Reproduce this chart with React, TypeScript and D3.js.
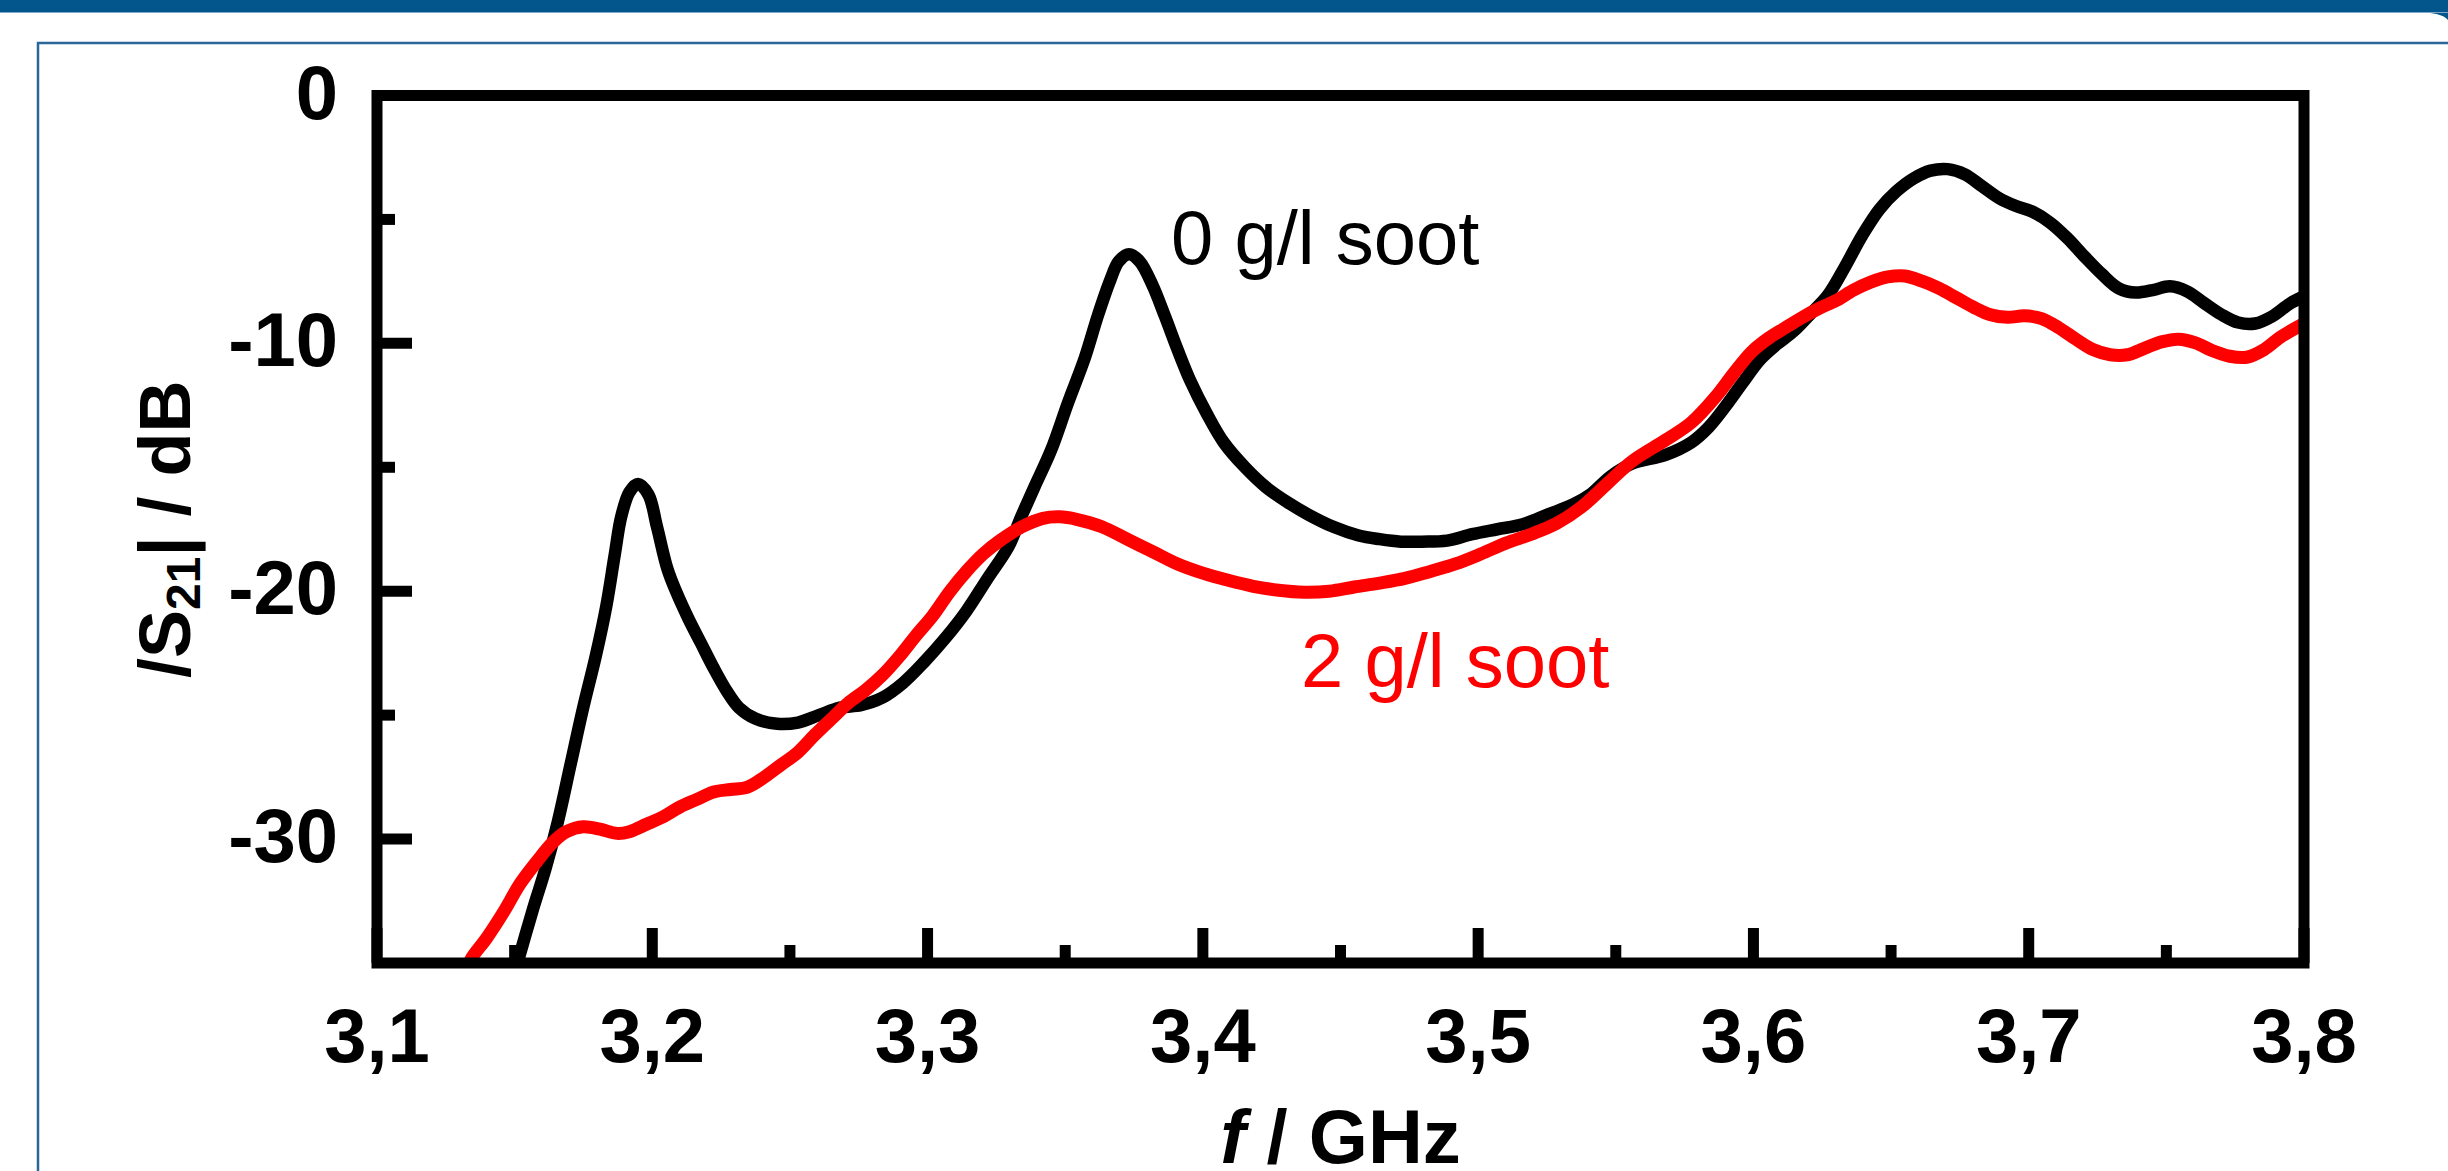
import React from "react";
import * as d3 from "d3";

// ---- data ----
const xTickValues = [3.1, 3.2, 3.3, 3.4, 3.5, 3.6, 3.7, 3.8];
const xTickLabels = ["3,1", "3,2", "3,3", "3,4", "3,5", "3,6", "3,7", "3,8"];
const xMinorTicks = [3.15, 3.25, 3.35, 3.45, 3.55, 3.65, 3.75];
const yTickValues = [0, -10, -20, -30];
const yTickLabels = ["0", "-10", "-20", "-30"];
const yMinorTicks = [-5, -15, -25];

const soot0: [number, number][] = [
  [3.1505, -35.2], [3.1566, -32.85], [3.1612, -31.2], [3.1657, -29.3], [3.1703, -27.0],
  [3.1749, -24.7], [3.1795, -22.6], [3.1833, -20.6], [3.1864, -18.5], [3.1887, -17.0],
  [3.1917, -16.0], [3.1948, -15.67], [3.1986, -16.1], [3.2017, -17.4], [3.2055, -19.1],
  [3.2086, -20.0], [3.2131, -21.1], [3.2177, -22.1], [3.2223, -23.1], [3.2269, -24.0],
  [3.2315, -24.7], [3.2376, -25.15], [3.2453, -25.35], [3.2529, -25.3], [3.2605, -25.0],
  [3.2682, -24.7], [3.2758, -24.6], [3.2835, -24.3], [3.2911, -23.7], [3.2988, -22.85],
  [3.3064, -21.9], [3.3141, -20.8], [3.3217, -19.5], [3.3294, -18.2], [3.3340, -17.0],
  [3.3388, -15.8], [3.3449, -14.3], [3.351, -12.4], [3.3572, -10.56], [3.3618, -8.9],
  [3.3664, -7.44], [3.3694, -6.7], [3.3732, -6.4], [3.3771, -6.7], [3.3817, -7.65],
  [3.3862, -8.9], [3.3908, -10.25], [3.3954, -11.5], [3.4015, -12.85], [3.4076, -14.0],
  [3.4153, -15.0], [3.4229, -15.8], [3.4306, -16.4], [3.4382, -16.9], [3.4474, -17.4],
  [3.4566, -17.75], [3.4642, -17.9], [3.4719, -18.0], [3.4795, -18.0], [3.4887, -17.96],
  [3.4978, -17.7], [3.507, -17.5], [3.5162, -17.3], [3.5254, -16.9], [3.5345, -16.5],
  [3.5407, -16.1], [3.5483, -15.35], [3.556, -14.85], [3.5681, -14.5], [3.5774, -14.0],
  [3.5836, -13.4], [3.5898, -12.55], [3.596, -11.6], [3.6023, -10.67], [3.6085, -10.04],
  [3.6147, -9.5], [3.6209, -8.79], [3.6271, -8.05], [3.6333, -6.9], [3.6395, -5.65],
  [3.6457, -4.6], [3.6519, -3.87], [3.6581, -3.35], [3.6644, -3.03], [3.6706, -2.97],
  [3.6768, -3.18], [3.683, -3.66], [3.6892, -4.14], [3.6954, -4.46], [3.7016, -4.7],
  [3.7078, -5.13], [3.714, -5.75], [3.7202, -6.49], [3.7265, -7.2], [3.7327, -7.78],
  [3.7389, -7.95], [3.7451, -7.85], [3.7513, -7.7], [3.7575, -7.9], [3.7637, -8.37],
  [3.7699, -8.83], [3.7761, -9.16], [3.7823, -9.2], [3.7886, -8.9], [3.7948, -8.4],
  [3.8, -8.1],
];

const soot2: [number, number][] = [
  [3.1325, -35.3], [3.1344, -34.8], [3.1398, -34.0], [3.1459, -32.96], [3.152, -31.8],
  [3.1581, -30.9], [3.1642, -30.1], [3.1688, -29.7], [3.1749, -29.5], [3.181, -29.6],
  [3.1872, -29.77], [3.1917, -29.7], [3.1979, -29.4], [3.204, -29.1], [3.2101, -28.7],
  [3.2162, -28.4], [3.2223, -28.1], [3.2284, -28.0], [3.2346, -27.9], [3.2407, -27.5],
  [3.2468, -27.0], [3.2529, -26.5], [3.259, -25.8], [3.2651, -25.15], [3.2713, -24.5],
  [3.2774, -24.0], [3.2835, -23.4], [3.2896, -22.65], [3.2957, -21.8], [3.3018, -21.0],
  [3.3079, -20.04], [3.3141, -19.2], [3.3202, -18.5], [3.3263, -17.96], [3.3343, -17.4],
  [3.3419, -17.06], [3.348, -17.0], [3.3541, -17.1], [3.3633, -17.4], [3.3725, -17.9],
  [3.3817, -18.4], [3.3908, -18.9], [3.4, -19.27], [3.4092, -19.56], [3.4183, -19.8],
  [3.4275, -19.96], [3.4367, -20.04], [3.4459, -20.0], [3.455, -19.83], [3.4642, -19.67],
  [3.4734, -19.48], [3.4826, -19.2], [3.4917, -18.9], [3.5009, -18.5], [3.5101, -18.06],
  [3.5193, -17.7], [3.5284, -17.27], [3.5376, -16.6], [3.5468, -15.67], [3.556, -14.75],
  [3.5681, -13.9], [3.5774, -13.2], [3.5867, -12.1], [3.5929, -11.2], [3.5992, -10.36],
  [3.6054, -9.8], [3.6116, -9.37], [3.6178, -8.95], [3.624, -8.58], [3.6302, -8.26],
  [3.6364, -7.85], [3.6426, -7.53], [3.6488, -7.32], [3.655, -7.28], [3.6613, -7.49],
  [3.6675, -7.78], [3.6737, -8.16], [3.6799, -8.54], [3.6861, -8.85], [3.6923, -8.95],
  [3.6985, -8.89], [3.7047, -9.0], [3.7109, -9.37], [3.7171, -9.83], [3.7233, -10.25],
  [3.7296, -10.46], [3.7358, -10.46], [3.742, -10.2], [3.7482, -9.94], [3.7544, -9.83],
  [3.7606, -9.98], [3.7668, -10.3], [3.773, -10.52], [3.7792, -10.56], [3.7855, -10.25],
  [3.7917, -9.73], [3.8, -9.2],
];

const W = 2448;
const H = 1171;
const FONT = "'Liberation Sans', Arial, Helvetica, sans-serif";

export default function App() {
  const x = d3.scaleLinear().domain([3.1, 3.8]).range([377, 2304]);
  const y = d3.scaleLinear().domain([-35, 0]).range([963, 95.5]);
  const line = d3
    .line<[number, number]>()
    .x((d) => x(d[0]))
    .y((d) => y(d[1]))
    .curve(d3.curveCatmullRom.alpha(0.5));

  const x0 = x(3.1), x1 = x(3.8), yb = y(-35), yt = y(0);
  const MAJ = 35, MIN = 18, AX = 11;

  return (
    <svg
      width={W}
      height={H}
      viewBox={`0 0 ${W} ${H}`}
      style={{ position: "absolute", left: 0, top: 0, display: "block", background: "#fff" }}
    >
      <rect x={0} y={0} width={W} height={H} fill="#ffffff" />
      {/* slide decoration */}
      <path d={`M0,0 H${W} V20 Q${W - 6},12 ${W - 34},12 H0 Z`} fill="#02568b" />
      <line x1={0} x2={W} y1={12.5} y2={12.5} stroke="#7fa6c6" strokeWidth={1} />
      <path d={`M38,${H + 5} V43 H${W + 5}`} fill="none" stroke="#2a6698" strokeWidth={2.5} />

      <defs>
        <clipPath id="plotClip">
          <rect x={x0} y={yt} width={x1 - x0} height={yb - yt} />
        </clipPath>
      </defs>

      {/* curves */}
      <g clipPath="url(#plotClip)" fill="none" strokeLinejoin="round" strokeLinecap="round">
        <path d={line(soot0) || ""} stroke="#000000" strokeWidth={12.5} />
        <path d={line(soot2) || ""} stroke="#ff0000" strokeWidth={13} />
      </g>

      {/* ticks */}
      <g stroke="#000" strokeWidth={AX}>
        {xTickValues.map((v) => (
          <line key={"xt" + v} x1={x(v)} x2={x(v)} y1={yb} y2={yb - MAJ} />
        ))}
        {xMinorTicks.map((v) => (
          <line key={"xm" + v} x1={x(v)} x2={x(v)} y1={yb} y2={yb - MIN} />
        ))}
        {yTickValues.map((v) => (
          <line key={"yt" + v} x1={x0} x2={x0 + MAJ} y1={y(v)} y2={y(v)} />
        ))}
        {yMinorTicks.map((v) => (
          <line key={"ym" + v} x1={x0} x2={x0 + MIN} y1={y(v)} y2={y(v)} />
        ))}
      </g>
      {/* frame */}
      <rect x={x0} y={yt} width={x1 - x0} height={yb - yt} fill="none" stroke="#000" strokeWidth={AX} strokeLinejoin="miter" />

      {/* tick labels */}
      <g fontFamily={FONT} fontWeight="bold" fontSize={76} fill="#000">
        {xTickValues.map((v, i) => (
          <text key={"xl" + v} x={x(v)} y={1062} textAnchor="middle">
            {xTickLabels[i]}
          </text>
        ))}
        {yTickValues.map((v, i) => (
          <text key={"yl" + v} x={338} y={y(v) + 23} textAnchor="end">
            {yTickLabels[i]}
          </text>
        ))}
      </g>

      {/* axis titles */}
      <text x={(x0 + x1) / 2} y={1163} textAnchor="middle" fontFamily={FONT} fontWeight="bold" fontSize={76}>
        <tspan fontStyle="italic">f</tspan>
        <tspan> / GHz</tspan>
      </text>
      <text
        transform={`translate(190,${(yt + yb) / 2}) rotate(-90)`}
        textAnchor="middle"
        fontFamily={FONT}
        fontWeight="bold"
        fontSize={72}
      >
        <tspan>/S</tspan>
        <tspan fontSize={48} dy={10}>21</tspan>
        <tspan dy={-10}>| / dB</tspan>
      </text>

      {/* annotations */}
      <text x={1171} y={264} fontFamily={FONT} fontSize={76} fill="#000">0 g/l soot</text>
      <text x={1301} y={687} fontFamily={FONT} fontSize={76} fill="#ff0000">2 g/l soot</text>
    </svg>
  );
}
